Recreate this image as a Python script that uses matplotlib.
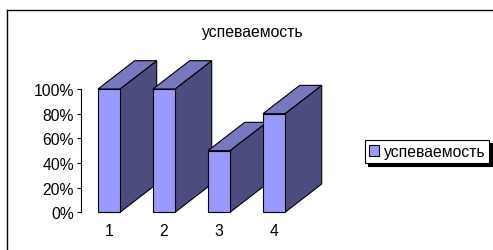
import matplotlib
matplotlib.use("Agg")
import matplotlib.pyplot as plt
from matplotlib.patches import Polygon, Patch
from matplotlib.lines import Line2D

# данные диаграммы
categories = ["1", "2", "3", "4"]
values = [1.0, 1.0, 0.5, 0.8]
series_name = "успеваемость"
title = "успеваемость"
yticks = [0.0, 0.2, 0.4, 0.6, 0.8, 1.0]

# цвета граней (front / top / side)
c_front = "#9999FF"
c_top = "#7878BE"
c_side = "#4C4C7E"
fs = 11.3

W, H = 493, 251
plt.rcParams['font.family'] = ['Liberation Sans', 'DejaVu Sans']
fig = plt.figure(figsize=(W / 100, H / 100), dpi=100, facecolor="white")

# оси в пикселях: x 81..340, y 60..213 (сверху вниз)
px_left, px_right, px_top, px_bot = 81, 340, 60, 213.3
ax = fig.add_axes([px_left / W, (H - px_bot) / H,
                   (px_right - px_left) / W, (px_bot - px_top) / H])
step = 55.0     # пикселей на одну категорию
unit = 123.3    # пикселей на 100%
ax.set_xlim(1 - (109 - px_left) / step, 1 + (px_right - 109) / step)
ax.set_ylim(0, (px_bot - px_top) / unit)

bw = 0.4             # ширина столбца
dx = 36.7 / step     # глубина по x
dy = 28.3 / unit     # глубина по y

for i, v in enumerate(values):
    c = i + 1
    l, r = c - bw / 2, c + bw / 2
    side = Polygon([(r, 0), (r + dx, dy), (r + dx, v + dy), (r, v)],
                   closed=True, facecolor=c_side, edgecolor="black", lw=0.8)
    top = Polygon([(l, v), (r, v), (r + dx, v + dy), (l + dx, v + dy)],
                  closed=True, facecolor=c_top, edgecolor="black", lw=0.8)
    front = Polygon([(l, 0), (r, 0), (r, v), (l, v)],
                    closed=True, facecolor=c_front, edgecolor="black", lw=0.8)
    for p in (side, top, front):
        p.set_clip_on(False)
        ax.add_patch(p)

for s in ["top", "right", "bottom"]:
    ax.spines[s].set_visible(False)
ax.spines["left"].set_bounds(0, 1)
ax.spines["left"].set_linewidth(0.8)
ax.set_yticks(yticks)
ax.set_yticklabels([f"{int(round(t * 100))}%" for t in yticks], fontsize=fs)
ax.tick_params(axis="y", length=3, width=0.8, pad=2)
ax.set_xticks(range(1, len(categories) + 1))
ax.set_xticklabels(categories, fontsize=fs)
ax.tick_params(axis="x", length=0, pad=8)
ax.patch.set_alpha(0)

fig.text(253 / W, 1 - 32 / H, title, ha="center", va="center", fontsize=fs)

# рамка диаграммы
fig.add_artist(Line2D([7 / W, 7 / W], [0, 1 - 11 / H], color="black", lw=1.0,
                      transform=fig.transFigure))
fig.add_artist(Line2D([7 / W, 1], [1 - 11 / H, 1 - 11 / H], color="black",
                      lw=1.0, transform=fig.transFigure))

# легенда
leg = fig.legend(handles=[Patch(facecolor=c_front, edgecolor="black", lw=0.8)],
                 labels=[series_name], loc="upper left",
                 bbox_to_anchor=(365 / W, 1 - 141 / H), fontsize=fs,
                 frameon=True, fancybox=False, shadow={"color": "black", "alpha": 1},
                 borderpad=0.25, handlelength=0.65, handleheight=0.65,
                 handletextpad=0.3, borderaxespad=0)
leg.get_frame().set_edgecolor("black")
leg.get_frame().set_linewidth(0.8)

fig.savefig("out.png", dpi=100)
